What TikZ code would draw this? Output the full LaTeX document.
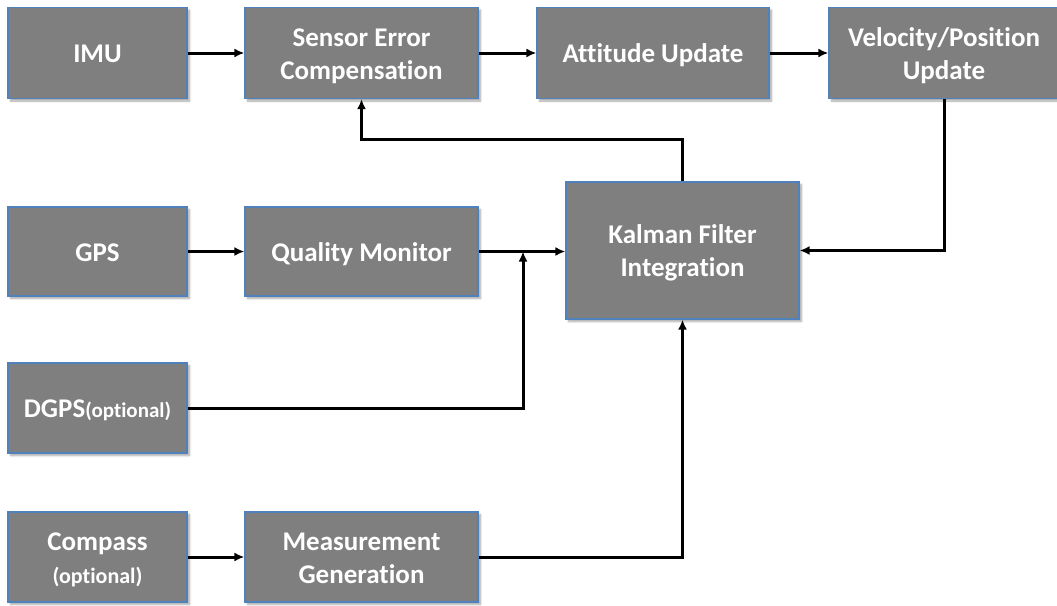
\documentclass[tikz,border=0pt]{standalone}
\usepackage{fontspec}
\setmainfont{Carlito}[RawFeature=-liga]
\usetikzlibrary{arrows.meta,shadows.blur}
\definecolor{boxfill}{RGB}{127,127,127}
\definecolor{boxline}{RGB}{79,129,189}
\newcommand\bxtext[1]{\raisebox{0pt}[\dimexpr\height+6pt\relax][\depth]{\begin{tabular}{@{}c@{}}#1\end{tabular}}}
\tikzset{
  blk/.style={draw=boxline, line width=1.2pt, fill=boxfill, text=white,
    font=\fontsize{27}{33}\selectfont\bfseries, inner sep=0pt,
    blur shadow={shadow xshift=2.5pt, shadow yshift=-2.5pt, shadow blur steps=6, shadow opacity=35}},
  arr/.style={line width=3pt, -{Latex[length=10pt,width=9pt]}}
}
\begin{document}
\begin{tikzpicture}[x=1pt,y=-1pt]
\useasboundingbox (0,0) rectangle (1057,605);
\node[blk, minimum width=179pt, minimum height=91pt] (imu) at (97.5,53) {\bxtext{IMU}};
\node[blk, minimum width=233pt, minimum height=91pt] (sec) at (361.5,53) {\bxtext{Sensor Error\\Compensation}};
\node[blk, minimum width=232pt, minimum height=91pt] (au) at (653,53) {\bxtext{Attitude Update}};
\node[blk, minimum width=230pt, minimum height=91pt] (vp) at (944,53) {\bxtext{Velocity/Position\\Update}};
\node[blk, minimum width=179pt, minimum height=89pt] (gps) at (97.5,251.5) {\bxtext{GPS}};
\node[blk, minimum width=233pt, minimum height=89pt] (qm) at (361.5,251.5) {\bxtext{Quality Monitor}};
\node[blk, minimum width=233pt, minimum height=137pt] (kf) at (682.5,250.5) {\bxtext{Kalman Filter\\Integration}};
\node[blk, minimum width=179pt, minimum height=90pt] (dgps) at (97.5,408) {\bxtext{DGPS{\fontsize{21}{25}\selectfont(optional)}}};
\node[blk, minimum width=179pt, minimum height=90pt] (comp) at (97.5,557) {\bxtext{Compass\\{\fontsize{22}{27}\selectfont(optional)}}};
\node[blk, minimum width=233pt, minimum height=90pt] (mg) at (361.5,557) {\bxtext{Measurement\\Generation}};
\coordinate (j) at (523,251.5);
\draw[arr] (imu.east) -- (sec.west);
\draw[arr] (sec.east) -- (au.west);
\draw[arr] (au.east) -- (vp.west);
\draw[arr] (vp.south) |- (kf.east);
\draw[arr] (kf.north) -- ++(0,-42) -| (sec.south);
\draw[arr] (gps.east) -- (qm.west);
\draw[arr] (qm.east) -- (qm.east -| kf.west);
\draw[arr] (dgps.east) -| (j);
\draw[arr] (comp.east) -- (mg.west);
\draw[arr] (mg.east) -| (kf.south);
\end{tikzpicture}
\end{document}
